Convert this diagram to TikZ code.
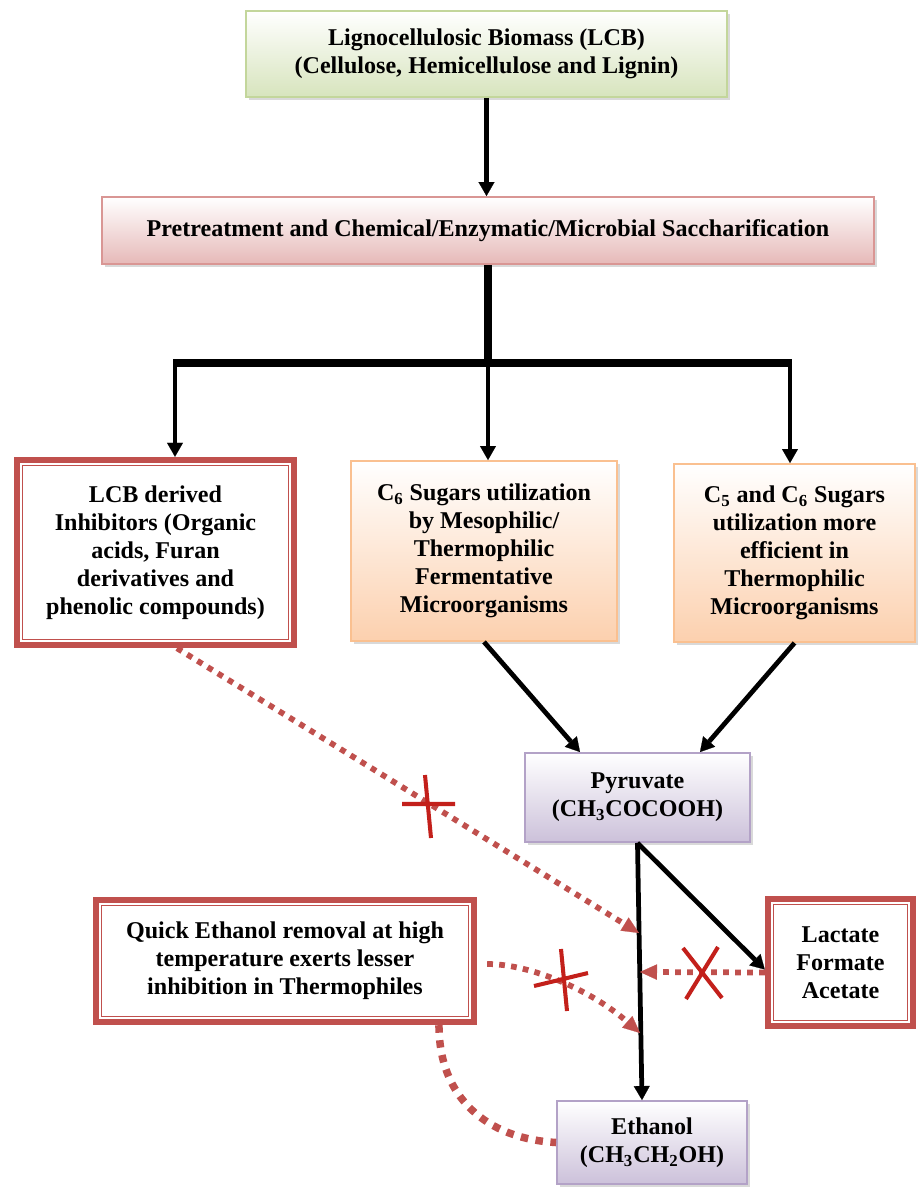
\documentclass[tikz,border=0pt]{standalone}
\usepackage{fontspec}
\setmainfont{Liberation Serif}
\usetikzlibrary{arrows.meta,shadows}

\definecolor{greenline}{HTML}{C3D69B}
\definecolor{greenfill}{HTML}{D7E4BD}
\definecolor{pinkline}{HTML}{D99694}
\definecolor{pinkfill}{HTML}{E6B9B8}
\definecolor{peachline}{HTML}{FAC090}
\definecolor{peachfill}{HTML}{FCD0AE}
\definecolor{lilacline}{HTML}{B3A2C7}
\definecolor{lilacfill}{HTML}{CCC1DA}
\definecolor{redline}{HTML}{C0504D}
\definecolor{crossred}{HTML}{C3201B}

\tikzset{
  boxtext/.style={font=\fontsize{13.7}{15.9}\selectfont\bfseries, align=center, inner sep=2pt},
  gradbox/.style={boxtext, draw=#1line, line width=1.1pt, top color=white, bottom color=#1fill,
    drop shadow={shadow xshift=0.06cm, shadow yshift=-0.06cm, opacity=0.3}},
  redbox/.style={boxtext, draw=redline, line width=3.4pt, fill=white,
    path picture={\draw[redline, line width=0.85pt]
      ([xshift=3.3pt,yshift=-3.3pt]path picture bounding box.north west) rectangle
      ([xshift=-3.3pt,yshift=3.3pt]path picture bounding box.south east);}},
  flowarrow/.style={line width=2.7pt, -{Triangle[length=2.8mm, width=3.2mm, line width=0.1pt]}},
  busline/.style={line width=4.4pt},
  inhibit/.style={redline, line width=1.15mm, dash pattern=on 1.15mm off 1.25mm,
    -{Triangle[length=3.4mm, width=3.1mm, line width=0.1pt]}},
  crossmark/.style={crossred, line width=2.3pt}
}

\begin{document}
\begin{tikzpicture}[x=0.02cm, y=-0.02cm]
\useasboundingbox (0,0) rectangle (917,1190);

% boxes
\node[gradbox=green, minimum width=9.62cm, minimum height=1.72cm] (lcb) at (486.5,54)
  {Lignocellulosic Biomass (LCB)\\(Cellulose, Hemicellulose and Lignin)};
\node[gradbox=pink, minimum width=15.44cm, minimum height=1.34cm] (pre) at (488,230.5)
  {Pretreatment and Chemical/Enzymatic/Microbial Saccharification};
\node[redbox, minimum width=5.55cm, minimum height=3.71cm] (inh) at (155.5,552.5)
  {LCB derived\\Inhibitors (Organic\\acids, Furan\\derivatives and\\phenolic compounds)};
\node[gradbox=peach, minimum width=5.32cm, minimum height=3.6cm] (csix) at (484,551)
  {C\textsubscript{6} Sugars utilization\\by Mesophilic/\\Thermophilic\\Fermentative\\Microorganisms};
\node[gradbox=peach, minimum width=4.82cm, minimum height=3.56cm] (cfive) at (794.5,553)
  {C\textsubscript{5} and C\textsubscript{6} Sugars\\utilization more\\efficient in\\Thermophilic\\Microorganisms};
\node[gradbox=lilac, minimum width=4.5cm, minimum height=1.78cm] (pyr) at (637.5,797.5)
  {Pyruvate\\(CH\textsubscript{3}COCOOH)};
\node[redbox, minimum width=2.91cm, minimum height=2.55cm] (lac) at (840.5,962.5)
  {Lactate\\Formate\\Acetate};
\node[redbox, minimum width=7.57cm, minimum height=2.45cm] (quick) at (285,961)
  {Quick Ethanol removal at high\\temperature exerts lesser\\inhibition in Thermophiles};
\node[gradbox=lilac, minimum width=3.8cm, minimum height=1.66cm] (eth) at (652,1142.5)
  {Ethanol\\(CH\textsubscript{3}CH\textsubscript{2}OH)};

% main flow
\coordinate (busl) at (175,363);
\coordinate (busr) at (790,363);
\draw[flowarrow] (lcb.south) -- (lcb.south |- pre.north);
\draw[busline] (pre.south) -- (pre.south |- busl);
\draw[busline] ([xshift=-0.04cm]busl) -- ([xshift=0.04cm]busr);
\draw[flowarrow] (busl) -- (busl |- inh.north);
\draw[flowarrow] (pre.south |- busl) -- (pre.south |- csix.north);
\draw[flowarrow] (busr) -- (busr |- cfive.north);
\draw[flowarrow] (csix.south) -- ([xshift=-1.15cm]pyr.north);
\draw[flowarrow] (cfive.south) -- ([xshift=1.25cm]pyr.north);
\draw[flowarrow] (pyr.south) -- ([xshift=-0.2cm]eth.north);
\draw[flowarrow] (pyr.south) -- ([yshift=-0.14cm]lac.west);

% inhibition
\coordinate (inhend) at (639,933);
\coordinate (lacend) at (640,972);
\coordinate (quickend) at (640,1033);
\draw[inhibit] ([xshift=0.43cm]inh.south) -- (inhend);
\draw[inhibit] ([yshift=-0.2cm]lac.west) -- (lacend);
\draw[inhibit] ([xshift=0.2cm,yshift=-0.06cm]quick.east) .. controls +(43,0) and +(-49,-43) .. (quickend);
\draw[redline, line width=1.5mm, dash pattern=on 1.5mm off 1.5mm]
  ([xshift=3.08cm]quick.south) .. controls +(0,72) and +(-70,-4) .. (eth.west);

% crosses
\draw[crossmark] (402,804) -- (455,804) (425,775) -- (431,838);
\draw[crossmark] (534,986) -- (588,973) (561,949) -- (567,1011);
\draw[crossmark] (683,948) -- (722,998) (718,947) -- (686,999);
\end{tikzpicture}
\end{document}
